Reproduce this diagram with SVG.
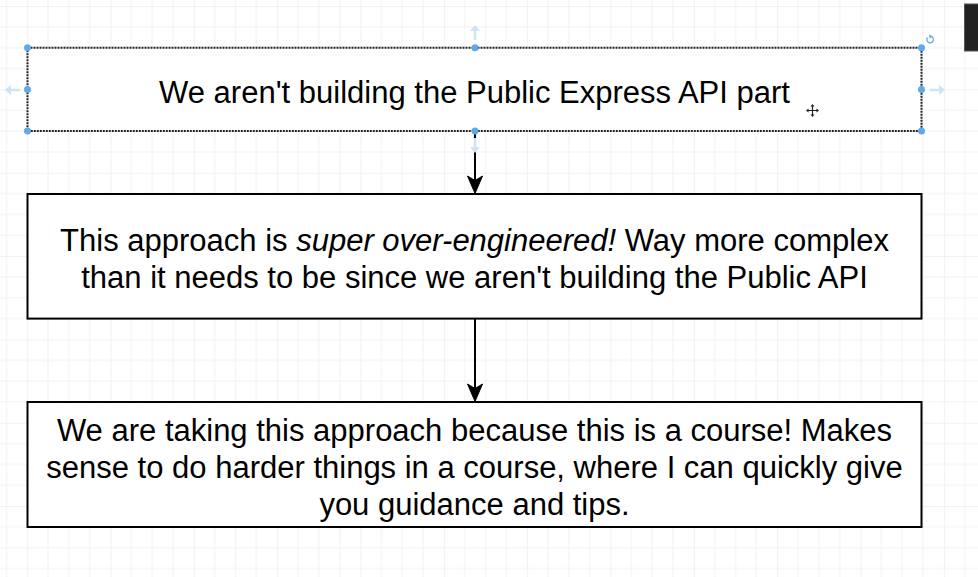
<svg xmlns="http://www.w3.org/2000/svg" width="978" height="577" viewBox="0 0 978 577">
<defs>
<pattern id="grid" patternUnits="userSpaceOnUse" x="27.2" y="6.1" width="83.33" height="83.33">
<path d="M20.83 0V83.33M41.67 0V83.33M62.5 0V83.33M0 20.83H83.33M0 41.67H83.33M0 62.5H83.33" stroke="#f1f1f1" stroke-width="1" fill="none"/>
<path d="M0 0V83.33M0 0H83.33" stroke="#e3e3e3" stroke-width="1" fill="none"/>
</pattern>
</defs>
<style>
.box{fill:#fff;stroke:#000;stroke-width:2}
.t{font-family:"Liberation Sans",Arial,Helvetica,sans-serif;font-size:31px;fill:#000;text-anchor:middle}
.edge{stroke:#000;stroke-width:2;fill:none}
.head{fill:#000;stroke:#000;stroke-width:1}
.handle{fill:#5ea9ec;stroke:none}
.hint{fill:none;stroke:#cfe3f7;stroke-width:2.5}
.hinth{fill:#cfe3f7}
</style>
<rect width="978" height="577" fill="#fff"/>
<rect width="978" height="577" fill="url(#grid)"/>
<rect x="964.5" y="4" width="14" height="47" fill="#222" stroke="#555" stroke-width="1"/>

<g id="connectors">
<path class="edge" d="M475 131.5V182"/>
<path class="head" d="M475 193.5L467.5 176L475 180.5L482.5 176Z"/>
<path class="edge" d="M475 319V390"/>
<path class="head" d="M475 401.5L467.5 384L475 388.5L482.5 384Z"/>
</g>

<g id="node1">
<rect class="box" x="27.5" y="47.7" width="894" height="83.3" stroke-dasharray="2 1" style="stroke:#222"/>
<text class="t" x="474.5" y="103">We aren't building the Public Express API part</text>
</g>

<g id="node2">
<rect class="box" x="27.5" y="194" width="894" height="124.6"/>
<text class="t" x="474.5" y="250.5">This approach is <tspan font-style="italic">super over-engineered!</tspan> Way more complex</text>
<text class="t" x="474.5" y="288">than it needs to be since we aren't building the Public API</text>
</g>

<g id="node3">
<rect class="box" x="27.5" y="402" width="894" height="125"/>
<text class="t" x="474.5" y="440.5">We are taking this approach because this is a course! Makes</text>
<text class="t" x="474.5" y="477.5">sense to do harder things in a course, where I can quickly give</text>
<text class="t" x="474.5" y="514.5">you guidance and tips.</text>
</g>

<g id="selection">
<path class="hint" d="M6 90H20"/><path class="hinth" d="M5 90L11 85V95Z"/>
<path class="hint" d="M944 90H930"/><path class="hinth" d="M945 90L939 85V95Z"/>
<path class="hint" d="M475 40V27"/><path class="hinth" d="M475 25L470 31H480Z"/>
<path class="hint" d="M475 138V151"/><path class="hinth" d="M475 153L470 147H480Z"/>
<circle class="handle" cx="27.5" cy="47.7" r="3.5"/>
<circle class="handle" cx="475" cy="47.7" r="3.5"/>
<circle class="handle" cx="921.5" cy="47.7" r="3.5"/>
<circle class="handle" cx="27.5" cy="89.5" r="3.5"/>
<circle class="handle" cx="921.5" cy="89.5" r="3.5"/>
<circle class="handle" cx="27.5" cy="131" r="3.5"/>
<circle class="handle" cx="475" cy="131" r="3.5"/>
<circle class="handle" cx="921.5" cy="131" r="3.5"/>
<path d="M927.5 37.5A3.3 3.3 0 1 0 931 36.3" fill="none" stroke="#5ea9ec" stroke-width="1.3"/>
<path d="M929 34.5L932.5 36.2L929.5 38.5Z" fill="#5ea9ec"/>
<g stroke="#222" stroke-width="1.2" fill="none">
<path d="M812.5 105.5V115.5M807.5 110.5H817.5"/>
</g>
<g fill="#222">
<path d="M812.5 104L810.5 106.5H814.5Z"/>
<path d="M812.5 117L810.5 114.5H814.5Z"/>
<path d="M806 110.5L808.5 108.5V112.5Z"/>
<path d="M819 110.5L816.5 108.5V112.5Z"/>
</g>
</g>
</svg>
